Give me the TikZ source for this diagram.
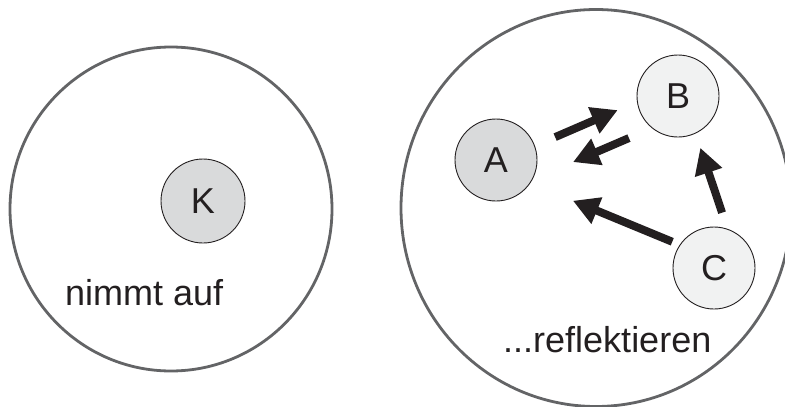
\documentclass[tikz,border=0pt]{standalone}
\usepackage{fontspec}
\setmainfont{Liberation Sans}
\usetikzlibrary{arrows.meta,shapes.geometric}

\definecolor{rimgray}{HTML}{636466}
\definecolor{darkfill}{HTML}{D9DADB}
\definecolor{lightfill}{HTML}{F1F2F2}
\definecolor{inkblack}{HTML}{231F20}

\begin{document}
\begin{tikzpicture}[
  x=1pt, y=-1pt,
  every node/.style={font=\fontsize{36}{40}\selectfont, text=inkblack},
  bigcircle/.style={ellipse, draw=rimgray, line width=2.8pt, inner sep=0pt},
  agent/.style={circle, draw=inkblack, line width=0.9pt, minimum size=82pt, inner sep=0pt},
  label/.style={anchor=base west, inner sep=0pt},
  fatarrow/.style={draw=inkblack, line width=8pt, line cap=butt,
    -{Triangle[length=26pt, width=27pt]}}
]
\clip (0,0) rectangle (785,407);

% Outer fields
\node[bigcircle, minimum width=322pt, minimum height=324pt] (aufnahme) at (171,209) {};
\node[bigcircle, minimum width=390pt, minimum height=397pt] (reflexion) at (596,208) {};

% Left: taking in
\node[agent, fill=darkfill, minimum size=84pt] (K) at (203,201) {K};
\node[label] (nimmt) at (65,305) {nimmt auf};

% Right: mirroring
\node[agent, fill=darkfill] (A) at (496,160) {A};
\node[agent, fill=lightfill] (B) at (678,96) {B};
\node[agent, fill=lightfill] (C) at (714,268) {C};
\node[label] (refl) at (503,352) {...reflektieren};

% Arrows
\draw[fatarrow, shorten <=22pt, shorten >=21pt] (A.20) -- (B.188);
\draw[fatarrow, shorten <=25pt, shorten >=44pt] (B.231) -- (A.332);
\draw[fatarrow, shorten <=8pt, shorten >=46pt] (C.146) -- (A.326);
\draw[fatarrow, shorten <=17pt, shorten >=15pt] (C.71) -- (B.295);

\end{tikzpicture}
\end{document}
